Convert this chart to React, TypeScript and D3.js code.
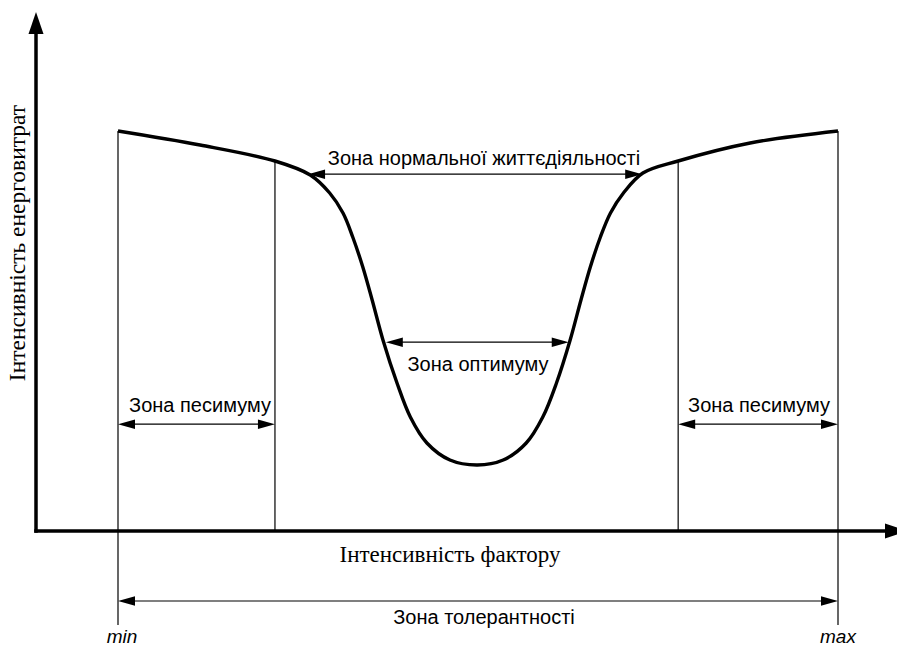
import React from 'react';
import * as d3 from 'd3';

// factor intensity (0 = min, 100 = max) and energy expenditure readings of the curve
const curveX = [0, 11.4, 21.8, 26.7, 29.4, 31.25, 32.6, 34.0, 35.3, 36.8, 38.75, 40.6, 42.9, 46.1, 49.9,
  53.5, 56.7, 59.0, 60.9, 62.8, 64.3, 65.6, 67.0, 68.4, 70.2, 72.9, 77.8, 87.8, 100];
const curveY = [100, 96.5, 92.5, 89, 84.5, 79.5, 73.5, 66, 57.75, 47.75, 37, 28.5, 22, 17.75, 16.5,
  17.75, 22, 28.5, 37, 47.75, 57.75, 66, 73.5, 79.5, 84.5, 89.5, 92.5, 97, 100];

// zone boundaries on the factor axis
const zoneBounds = [0, 21.8, 77.8, 100];
const normalZone = [26.4, 72.8, 89.2];
const optimumZone = [37.2, 62.6, 47.2];
const pessimumLevel = 26.7;
const toleranceLevel = -17.5;
const boundLow = -23.5;

const labels = {
  normal: 'Зона нормальної життєдіяльності',
  optimum: 'Зона оптимуму',
  pessimum: 'Зона песимуму',
  tolerance: 'Зона толерантності',
  xTitle: 'Інтенсивність фактору',
  yTitle: 'Інтенсивність енерговитрат',
  min: 'min',
  max: 'max',
};

const W = 897;
const H = 648;
const sans = '"Liberation Sans", Arial, sans-serif';
const serif = '"Liberation Serif", "Times New Roman", serif';

const x = d3.scaleLinear().domain([0, 100]).range([118, 838]);
const y = d3.scaleLinear().domain([0, 100]).range([531, 131]);

const axisX0 = x.invert(36);
const axisXEnd = x.invert(907);
const axisYEnd = y.invert(12);

const DimArrow = ({ x1, x2, yv }: { x1: number; x2: number; yv: number }) => {
  const a = x(x1), b = x(x2), yy = y(yv);
  const L = 17, h = 4.8;
  return (
    <g>
      <line x1={a + 4} x2={b - 4} y1={yy} y2={yy} stroke="#000" strokeWidth={1.2} />
      <path d={`M${a},${yy}L${a + L},${yy - h}L${a + L},${yy + h}Z`} fill="#000" />
      <path d={`M${b},${yy}L${b - L},${yy - h}L${b - L},${yy + h}Z`} fill="#000" />
    </g>
  );
};

export default function App() {
  const pts = curveX.map((v, i) => [v, curveY[i]] as [number, number]);
  const line = d3.line<[number, number]>()
    .x(d => x(d[0]))
    .y(d => y(d[1]))
    .curve(d3.curveCatmullRom.alpha(0.5));

  const yAt = (xv: number) => {
    const i = curveX.findIndex(v => v >= xv);
    if (curveX[i] === xv) return curveY[i];
    const t = (xv - curveX[i - 1]) / (curveX[i] - curveX[i - 1]);
    return curveY[i - 1] + t * (curveY[i] - curveY[i - 1]);
  };

  const ax = x(axisX0), ay = y(0);
  const yTip = y(axisYEnd), xTip = x(axisXEnd);

  return (
    <svg width={W} height={H} style={{ position: 'absolute', left: 0, top: 0, background: '#fff' }}>
      {/* axes */}
      <line x1={ax} x2={ax} y1={ay + 1.75} y2={yTip + 20} stroke="#000" strokeWidth={3.5} />
      <path d={`M${ax},${yTip}L${ax - 7.5},${yTip + 22}L${ax + 7.5},${yTip + 22}Z`} fill="#000" />
      <line x1={ax - 1.75} x2={xTip - 20} y1={ay} y2={ay} stroke="#000" strokeWidth={3.5} />
      <path d={`M${xTip},${ay}L${xTip - 22},${ay - 7.5}L${xTip - 22},${ay + 7.5}Z`} fill="#000" />

      {/* zone boundaries */}
      {zoneBounds.map((b, i) => {
        const outer = i === 0 || i === zoneBounds.length - 1;
        return (
          <line key={i} x1={x(b)} x2={x(b)} y1={y(yAt(b))} y2={outer ? y(boundLow) : y(0)}
            stroke="#000" strokeWidth={1.2} />
        );
      })}

      {/* curve */}
      <path d={line(pts) || ''} fill="none" stroke="#000" strokeWidth={3.4} strokeLinejoin="round" />

      {/* dimension arrows */}
      <DimArrow x1={normalZone[0]} x2={normalZone[1]} yv={normalZone[2]} />
      <DimArrow x1={optimumZone[0]} x2={optimumZone[1]} yv={optimumZone[2]} />
      <DimArrow x1={zoneBounds[0]} x2={zoneBounds[1]} yv={pessimumLevel} />
      <DimArrow x1={zoneBounds[2]} x2={zoneBounds[3]} yv={pessimumLevel} />
      <DimArrow x1={zoneBounds[0]} x2={zoneBounds[3]} yv={toleranceLevel} />

      <g fontFamily={sans} fontSize={20} fill="#000" textAnchor="middle">
        <text x={484} y={y(normalZone[2]) - 9}>{labels.normal}</text>
        <text x={x(50)} y={371}>{labels.optimum}</text>
        <text x={200} y={y(pessimumLevel) - 12}>{labels.pessimum}</text>
        <text x={759} y={y(pessimumLevel) - 12}>{labels.pessimum}</text>
        <text x={484} y={624}>{labels.tolerance}</text>
        <text x={x(0) + 4} y={643} fontStyle="italic" fontSize={19}>{labels.min}</text>
        <text x={x(100)} y={643} fontStyle="italic" fontSize={19}>{labels.max}</text>
      </g>
      <g fontFamily={serif} fontSize={23} fill="#000" textAnchor="middle">
        <text x={450} y={562}>{labels.xTitle}</text>
        <text transform="translate(25,243) rotate(-90)" fontSize={23.5}>{labels.yTitle}</text>
      </g>
    </svg>
  );
}
